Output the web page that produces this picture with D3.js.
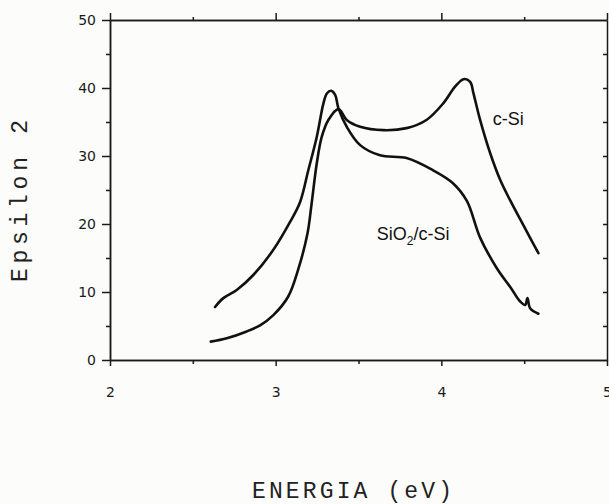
<!DOCTYPE html>
<html>
<head>
<meta charset="utf-8">
<script src="https://cdn.jsdelivr.net/npm/d3@7"></script>
<style>
  html, body { margin: 0; padding: 0; background: #fcfcfa; }
  svg { display: block; }
  .axis path, .axis line { stroke: #1a1a1a; stroke-width: 1.5; }
  .axis text { font-family: "DejaVu Sans", sans-serif; font-size: 14px; fill: #1a1a1a; }
  .title { font-family: "Liberation Mono", monospace; font-size: 23px; fill: #222; }
  .curve-label { font-family: "Liberation Sans", Arial, sans-serif; font-size: 18px; fill: #111; }
</style>
</head>
<body>
<div id="chart"></div>
<script>
// c-Si (steep rise, then second peak near 4.15 eV)
const energyCSi = [2.608, 2.705, 2.825, 2.906, 2.986, 3.075, 3.137, 3.192, 3.217, 3.248, 3.278, 3.318, 3.379,
    3.429, 3.51, 3.65, 3.79, 3.91, 4.01, 4.083, 4.134, 4.174, 4.194, 4.234, 4.295, 4.355, 4.415, 4.50, 4.586];
const eps2CSi = [2.7, 3.2, 4.2, 5.1, 6.6, 9.3, 13.4, 18.6, 23.0, 28.9, 32.8, 35.3, 36.9,
    35.3, 34.3, 33.8, 34.1, 35.3, 37.7, 40.2, 41.3, 40.9, 39.2, 35.3, 30.4, 26.5, 23.5, 19.6, 15.7];

// SiO2/c-Si (first peak near 3.33 eV, then falls)
const energySiO2 = [2.634, 2.684, 2.765, 2.865, 2.986, 3.087, 3.147, 3.197, 3.248, 3.288, 3.309, 3.335, 3.359,
    3.379, 3.429, 3.51, 3.63, 3.79, 3.95, 4.07, 4.154, 4.234, 4.335, 4.42, 4.476, 4.506, 4.52, 4.536, 4.586];
const eps2SiO2 = [7.8, 9.1, 10.3, 12.5, 16.2, 20.3, 23.2, 27.9, 32.8, 37.7, 39.2, 39.6, 39.0,
    37.0, 34.3, 31.6, 30.1, 29.7, 27.9, 26.0, 23.4, 18.0, 13.5, 10.6, 8.6, 8.1, 9.1, 7.6, 6.8];

const xMajorTicks = [2, 3, 4, 5];
const xMinorTicks = [2.5, 3.5, 4.5];
const yMajorTicks = [0, 10, 20, 30, 40, 50];
const yMinorTicks = [5, 15, 25, 35, 45];
const yRightTicks = [5, 10, 15, 20, 25, 30, 35, 40, 45];

const width = 609;
const height = 504;
const margin = { top: 20, right: 2, bottom: 144, left: 110 };

const svg = d3.select('#chart')
    .append('svg')
    .attr('width', width)
    .attr('height', height);

const xScale = d3.scaleLinear()
    .domain([2, 5])
    .range([margin.left, width - margin.right]);

const yScale = d3.scaleLinear()
    .domain([0, 50])
    .range([height - margin.bottom, margin.top]);

const x0 = xScale.range()[0];
const x1 = xScale.range()[1];
const y0 = yScale.range()[0];
const y1 = yScale.range()[1];

// Left axis
svg.append('g')
    .attr('class', 'axis')
    .attr('transform', `translate(${x0},0)`)
    .call(d3.axisLeft(yScale).tickValues(yMajorTicks).tickSize(8).tickSizeOuter(0).tickPadding(6)
        .tickFormat(d3.format('d')));
svg.append('g')
    .attr('class', 'axis')
    .attr('transform', `translate(${x0},0)`)
    .call(d3.axisLeft(yScale).tickValues(yMinorTicks).tickSize(4).tickSizeOuter(0).tickFormat(''));

// Right axis, ticks pointing in
svg.append('g')
    .attr('class', 'axis')
    .attr('transform', `translate(${x1},0)`)
    .call(d3.axisLeft(yScale).tickValues(yRightTicks).tickSize(4).tickSizeOuter(0).tickFormat(''));

// Bottom axis
svg.append('g')
    .attr('class', 'axis')
    .attr('transform', `translate(0,${y0})`)
    .call(d3.axisBottom(xScale).tickValues(xMajorTicks).tickSize(6).tickSizeOuter(0).tickPadding(21)
        .tickFormat(d3.format('d')));
svg.append('g')
    .attr('class', 'axis')
    .attr('transform', `translate(0,${y0})`)
    .call(d3.axisBottom(xScale).tickValues(xMinorTicks).tickSize(4).tickSizeOuter(0).tickFormat(''));

// Top axis
svg.append('g')
    .attr('class', 'axis')
    .attr('transform', `translate(0,${y1})`)
    .call(d3.axisTop(xScale).tickValues(xMajorTicks).tickSize(7).tickSizeOuter(0).tickFormat(''));
svg.append('g')
    .attr('class', 'axis')
    .attr('transform', `translate(0,${y1})`)
    .call(d3.axisTop(xScale).tickValues(xMinorTicks).tickSize(3).tickSizeOuter(0).tickFormat(''));

// Curves
const line = d3.line()
    .x((d) => xScale(d[0]))
    .y((d) => yScale(d[1]))
    .curve(d3.curveCatmullRom.alpha(0.5));

const curves = [
    d3.zip(energyCSi, eps2CSi),
    d3.zip(energySiO2, eps2SiO2),
];

svg.append('g')
    .selectAll('path')
    .data(curves)
    .join('path')
    .attr('d', line)
    .attr('fill', 'none')
    .attr('stroke', '#111')
    .attr('stroke-width', 2.6)
    .attr('stroke-linejoin', 'round')
    .attr('stroke-linecap', 'round');

// Curve labels
svg.append('text')
    .attr('class', 'curve-label')
    .attr('x', xScale(4.31))
    .attr('y', yScale(34.5))
    .text('c-Si');

const sio2Label = svg.append('text')
    .attr('class', 'curve-label')
    .attr('x', xScale(3.61))
    .attr('y', yScale(17.6));
sio2Label.append('tspan').text('SiO');
sio2Label.append('tspan').attr('font-size', 12).attr('dy', 5).text('2');
sio2Label.append('tspan').attr('dy', -5).text('/c-Si');

// Axis titles
svg.append('text')
    .attr('class', 'title')
    .attr('text-anchor', 'middle')
    .attr('transform', 'translate(27,201) rotate(-90)')
    .attr('textLength', 162)
    .attr('lengthAdjust', 'spacing')
    .text('Epsilon 2');

svg.append('text')
    .attr('class', 'title')
    .attr('text-anchor', 'middle')
    .attr('x', 352)
    .attr('y', 498)
    .attr('textLength', 200)
    .attr('lengthAdjust', 'spacing')
    .text('ENERGIA (eV)');
</script>
</body>
</html>
